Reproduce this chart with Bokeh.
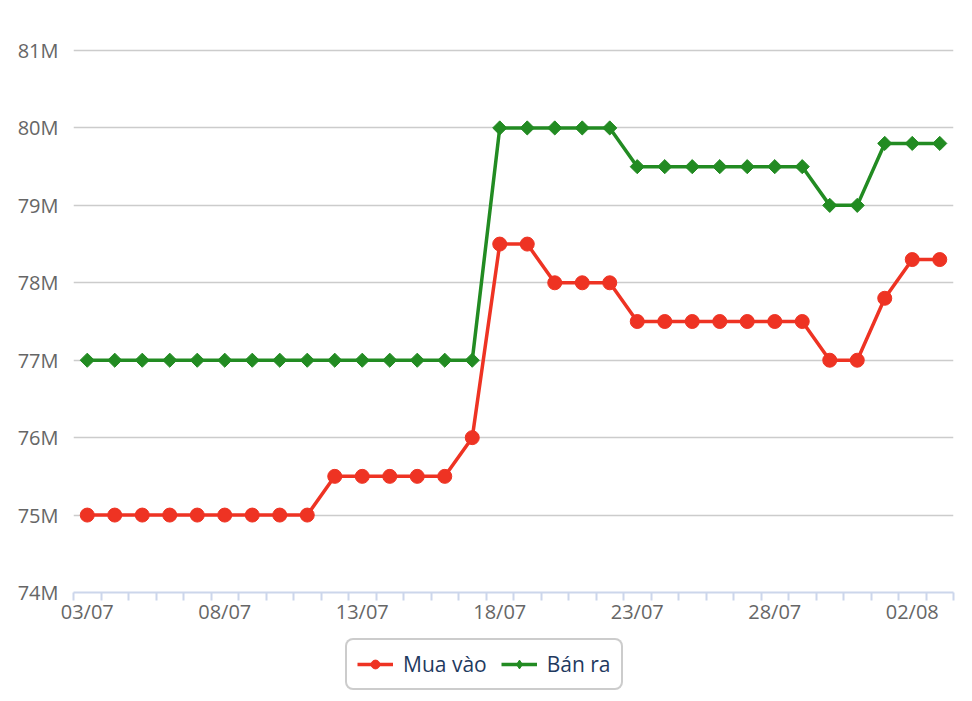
import math
from bokeh.plotting import figure
from bokeh.layouts import column
from bokeh.models import FixedTicker, Legend, LegendItem, ColumnDataSource, Range1d
from bokeh.embed import file_html
from bokeh.resources import INLINE

dates = ["03/07", "04/07", "05/07", "06/07", "07/07", "08/07", "09/07", "10/07",
         "11/07", "12/07", "13/07", "14/07", "15/07", "16/07", "17/07", "18/07",
         "19/07", "20/07", "21/07", "22/07", "23/07", "24/07", "25/07", "26/07",
         "27/07", "28/07", "29/07", "30/07", "31/07", "01/08", "02/08", "03/08"]
mua_vao = [75.0, 75.0, 75.0, 75.0, 75.0, 75.0, 75.0, 75.0, 75.0, 75.5, 75.5, 75.5,
           75.5, 75.5, 76.0, 78.5, 78.5, 78.0, 78.0, 78.0, 77.5, 77.5, 77.5, 77.5,
           77.5, 77.5, 77.5, 77.0, 77.0, 77.8, 78.3, 78.3]
ban_ra = [77.0, 77.0, 77.0, 77.0, 77.0, 77.0, 77.0, 77.0, 77.0, 77.0, 77.0, 77.0,
          77.0, 77.0, 77.0, 80.0, 80.0, 80.0, 80.0, 80.0, 79.5, 79.5, 79.5, 79.5,
          79.5, 79.5, 79.5, 79.0, 79.0, 79.8, 79.8, 79.8]
y_ticks = [74, 75, 76, 77, 78, 79, 80, 81]
label_every = 5
series_names = ["Mua vào", "Bán ra"]

x = list(range(len(dates)))
src = ColumnDataSource(dict(x=x, mua=mua_vao, ban=ban_ra))

RED = "#ee3323"
GREEN = "#228b22"
FONT = "Open Sans"

p = figure(frame_width=880, frame_height=544, output_backend="svg", toolbar_location=None,
           x_range=Range1d(-0.5, len(dates) - 0.5),
           y_range=Range1d(y_ticks[0], y_ticks[-1] + 0.026),
           min_border_left=73, min_border_right=19, min_border_top=48, min_border_bottom=0)
p.outline_line_color = None
p.background_fill_color = "white"
p.line("x", "mua", source=src, line_color=RED, line_width=3.5)
p.scatter("x", "mua", source=src, marker="circle", size=14, fill_color=RED, line_color=RED)
p.line("x", "ban", source=src, line_color=GREEN, line_width=3.5)
p.scatter("x", "ban", source=src, marker="square", size=10, angle=math.pi / 4,
          fill_color=GREEN, line_color=GREEN)

# x axis
major = list(range(0, len(dates), label_every))
minor = [i - 0.5 for i in range(len(dates) + 1)]
p.xaxis.ticker = FixedTicker(ticks=major, minor_ticks=minor)
p.xaxis.major_label_overrides = {i: dates[i] for i in major}
p.xaxis.axis_line_color = "#ccd6eb"
p.xaxis.axis_line_width = 2
p.xaxis.major_tick_line_color = None
p.xaxis.minor_tick_line_color = "#ccd6eb"
p.xaxis.minor_tick_line_width = 2
p.xaxis.minor_tick_out = 8
p.xaxis.minor_tick_in = 0
p.xaxis.major_label_standoff = -3
p.xaxis.major_label_text_font = FONT
p.xaxis.major_label_text_font_size = "20px"
p.xaxis.major_label_text_color = "#666666"
p.xgrid.grid_line_color = None

# y axis
p.yaxis.ticker = FixedTicker(ticks=y_ticks)
p.yaxis.major_label_overrides = {v: f"{v}M" for v in y_ticks}
p.yaxis.axis_line_color = None
p.yaxis.major_tick_line_color = None
p.yaxis.minor_tick_line_color = None
p.yaxis.major_label_standoff = 9
p.yaxis.major_label_text_font = FONT
p.yaxis.major_label_text_font_size = "20px"
p.yaxis.major_label_text_color = "#666666"
p.ygrid.grid_line_color = "#cccccc"
p.ygrid.grid_line_width = 1.5

# legend strip below the chart (series drawn out of view, only the legend shows)
q = figure(width=972 - 16, height=64, output_backend="svg", toolbar_location=None,
           x_range=Range1d(1000, 1001), y_range=Range1d(1000, 1001),
           min_border=0)
q.axis.visible = False
q.grid.visible = False
q.outline_line_color = None
r1 = q.line("x", "mua", source=src, line_color=RED, line_width=3.5)
r1m = q.scatter("x", "mua", source=src, marker="circle", size=14, fill_color=RED, line_color=RED)
r2 = q.line("x", "ban", source=src, line_color=GREEN, line_width=3.5)
r2m = q.scatter("x", "ban", source=src, marker="diamond", size=17,
                fill_color=GREEN, line_color=GREEN)

legend = Legend(items=[LegendItem(label=series_names[0], renderers=[r1, r1m]),
                       LegendItem(label=series_names[1], renderers=[r2, r2m])],
                orientation="horizontal", location=(272, 1))
legend.label_text_font = FONT
legend.label_text_font_size = "21px"
legend.label_text_color = "#1f3a5f"
legend.label_height = 24
legend.border_line_color = "#999999"
legend.border_line_width = 2
legend.glyph_width = 36
legend.glyph_height = 22
legend.label_standoff = 10
legend.spacing = 14
legend.padding = 10
legend.margin = 0
try:
    legend.border_radius = 8
except Exception:
    pass
q.add_layout(legend, "center")

layout = column(p, q, spacing=0)
open("out.html", "w").write(file_html(layout, INLINE))
